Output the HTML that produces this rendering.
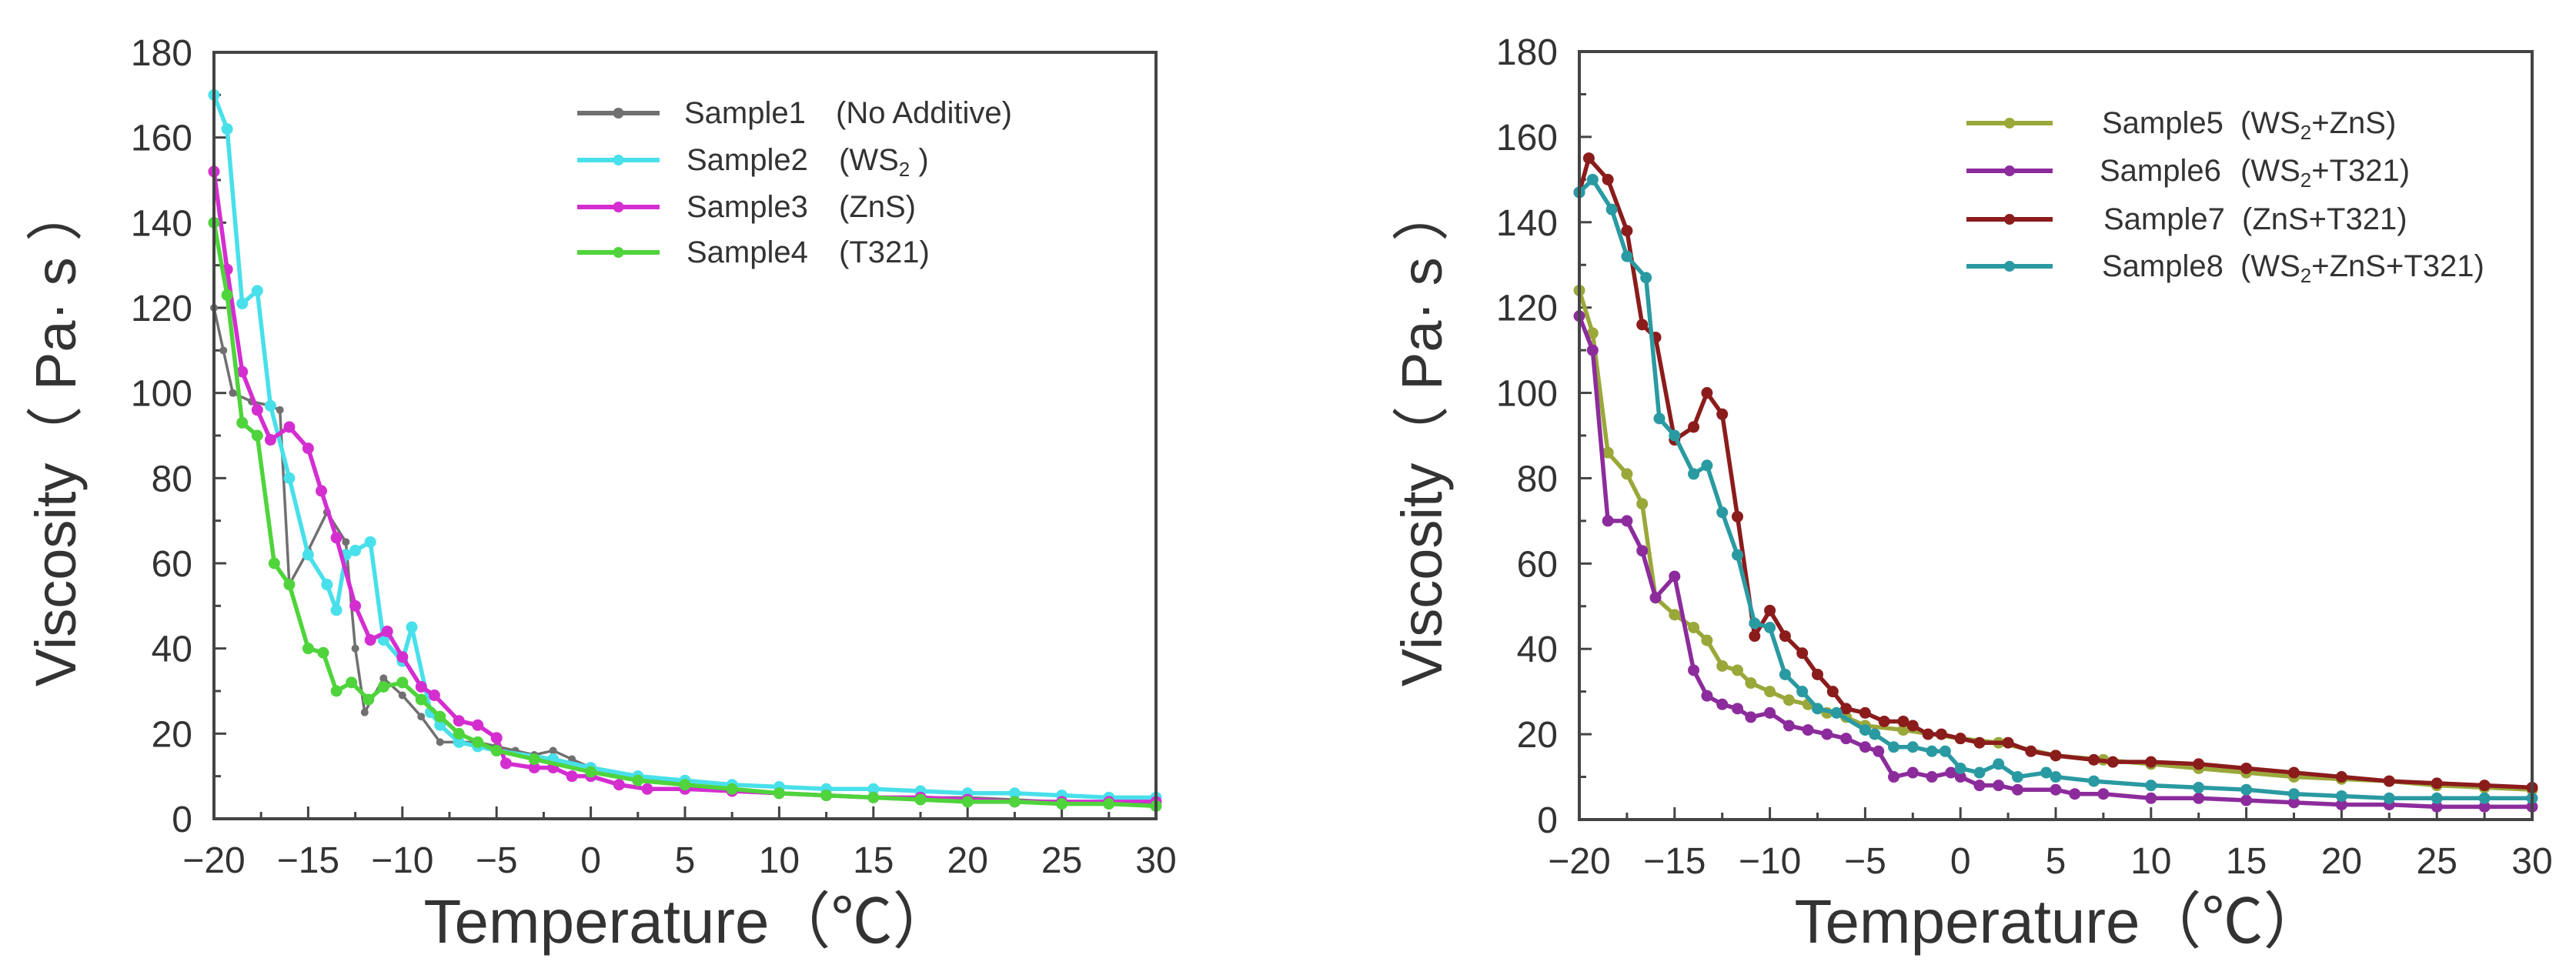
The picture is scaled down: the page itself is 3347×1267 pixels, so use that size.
<!DOCTYPE html>
<html><head><meta charset="utf-8"><style>
body{margin:0;background:#fff}
svg text{font-family:"Liberation Sans",sans-serif;fill:#333}
</style></head><body>
<svg id="svg" width="3347" height="1262" viewBox="0 0 3347 1262" xmlns="http://www.w3.org/2000/svg"></svg>
<script>
const xTicks=[-20,-15,-10,-5,0,5,10,15,20,25,30];
const yTicks=[0,20,40,60,80,100,120,140,160,180];
const s1x=[-20,-19.5,-19,-18,-17,-16.5,-16,-15,-14,-13,-12.5,-12,-11,-10,-9,-8,-7,-6,-5,-4,-3,-2,-1,0,2,5,7.5,10,12.5,15,17.5,20,22.5,25,27.5,30];
const s1v=[120,110,100,98,97,96,55,63,72,65,40,25,33,29,24,18,18,18,17,16,15,16,14,12,10,8,7,6,5.5,5,5,5,4.5,4,4,4];
const s2x=[-20,-19.3,-18.5,-17.7,-17,-16,-15,-14,-13.5,-13,-12.5,-11.7,-11,-10,-9.5,-8.5,-8,-7,-6,-5,-2,0,2.5,5,7.5,10,12.5,15,17.5,20,22.5,25,27.5,30];
const s2v=[170,162,121,124,97,80,62,55,49,62,63,65,42,37,45,25,22,18,17,16,14,12,10,9,8,7.5,7,7,6.5,6,6,5.5,5,5];
const s3x=[-20,-19.3,-18.5,-17.7,-17,-16,-15,-14.3,-13.5,-12.5,-11.7,-10.8,-10,-9,-8.3,-7,-6,-5,-4.5,-3,-2,-1,0,1.5,3,5,7.5,10,12.5,15,17.5,20,22.5,25,27.5,30];
const s3v=[152,129,105,96,89,92,87,77,66,50,42,44,38,31,29,23,22,19,13,12,12,10,10,8,7,7,6.5,6,5.5,5,5,4.5,4,4,4,4];
const s4x=[-20,-19.3,-18.5,-17.7,-16.8,-16,-15,-14.2,-13.5,-12.7,-11.8,-11,-10,-9,-8,-7,-6,-5,-3,0,2.5,5,7.5,10,12.5,15,17.5,20,22.5,25,27.5,30];
const s4v=[140,123,93,90,60,55,40,39,30,32,28,31,32,28,24,20,18,16,14,11,9,8,7,6,5.5,5,4.5,4,4,3.5,3.5,3];
const s5x=[-20,-19.3,-18.5,-17.5,-16.7,-16,-15,-14,-13.3,-12.5,-11.7,-11,-10,-9,-8,-7,-6,-5,-3,0,2,5,7.5,10,12.5,15,17.5,20,22.5,25,27.5,30];
const s5v=[124,114,86,81,74,52,48,45,42,36,35,32,30,28,27,25,24,22,21,19,18,15,14,13,12,11,10,9.5,9,8,7.5,7];
const s6x=[-20,-19.3,-18.5,-17.5,-16.7,-16,-15,-14,-13.3,-12.5,-11.7,-11,-10,-9,-8,-7,-6,-5,-4.3,-3.5,-2.5,-1.5,-0.5,0,1,2,3,5,6,7.5,10,12.5,15,17.5,20,22.5,25,27.5,30];
const s6v=[118,110,70,70,63,52,57,35,29,27,26,24,25,22,21,20,19,17,16,10,11,10,11,10,8,8,7,7,6,6,5,5,4.5,4,3.5,3.5,3,3,3];
const s7x=[-20,-19.5,-18.5,-17.5,-16.7,-16,-15,-14,-13.3,-12.5,-11.7,-10.8,-10,-9.2,-8.3,-7.5,-6.7,-6,-5,-4,-3,-2.5,-1.7,-1,0,1,2.5,3.7,5,7,8,10,12.5,15,17.5,20,22.5,25,27.5,30];
const s7v=[147,155,150,138,116,113,89,92,100,95,71,43,49,43,39,34,30,26,25,23,23,22,20,20,19,18,18,16,15,14,13.5,13.5,13,12,11,10,9,8.5,8,7.5];
const s8x=[-20,-19.3,-18.3,-17.5,-16.5,-15.8,-15,-14,-13.3,-12.5,-11.7,-10.8,-10,-9.2,-8.3,-7.5,-6.5,-5,-4.5,-3.5,-2.5,-1.5,-0.8,0,1,2,3,4.5,5,7,10,12.5,15,17.5,20,22.5,25,27.5,30];
const s8v=[147,150,143,132,127,94,90,81,83,72,62,46,45,34,30,26,25,21,20,17,17,16,16,12,11,13,10,11,10,9,8,7.5,7,6,5.5,5,5,5,5];

const NS="http://www.w3.org/2000/svg";
const svg=document.getElementById('svg');
function mk(tag,attrs,parent){const e=document.createElementNS(NS,tag);for(const k in attrs)e.setAttribute(k,attrs[k]);(parent||svg).appendChild(e);return e;}

function chart(id,L,R,T,B,series,legend,ytx){
  const g=mk('g',{});
  
  
  const X=v=>L+(v+20)/50*(R-L);
  const Y=v=>B-v/180*(B-T);
  for(let t=-20;t<=30;t+=2.5){const len=(t%5===0)?16:9;mk('line',{x1:X(t),x2:X(t),y1:B,y2:B-len,stroke:'#444','stroke-width':3},g);}
  for(let v=0;v<=180;v+=10){const len=(v%20===0)?16:9;mk('line',{x1:L,x2:L+len,y1:Y(v),y2:Y(v),stroke:'#444','stroke-width':3},g);}
  xTicks.forEach(t=>{const tx=mk('text',{x:X(t),y:B+70,'font-size':48,'text-anchor':'middle'},g);tx.textContent=(t<0?'\u2212'+(-t):t);
    
    });
  yTicks.forEach(v=>{const tx=mk('text',{x:L-28,y:Y(v)+17,'font-size':48,'text-anchor':'end'},g);tx.textContent=v;
    
    });
  series.forEach(s=>{
    const pts=s.x.map((x,i)=>X(x)+','+Y(s.v[i])).join(' ');
    const pl=mk('polyline',{points:pts,fill:'none',stroke:s.c,'stroke-width':s.w||5.5,'stroke-linejoin':'round'},g);
    
    
    s.x.forEach((x,i)=>{const c=mk('circle',{cx:X(x),cy:Y(s.v[i]),r:s.r||7.5,fill:s.c},g);
      
      });
  });
  const fr=mk('rect',{x:L,y:T,width:R-L,height:B-T,fill:'none',stroke:'#444','stroke-width':4},g);
  
  
  legend.forEach(e=>{
    const lg=mk('g',{},g);
    
    
    mk('line',{x1:e.lx1,x2:e.lx2,y1:e.y,y2:e.y,stroke:e.c,'stroke-width':6},lg);
    mk('circle',{cx:(e.lx1+e.lx2)/2,cy:e.y,r:7,fill:e.c},lg);
    const t=mk('text',{x:e.tx,y:e.y+13,'font-size':40},lg);t.textContent=e.a;
    const t2=mk('text',{x:e.px,y:e.y+13,'font-size':40},lg);t2.innerHTML=e.b;
  });
  const xt=mk('text',{x:(L+R)/2+5,y:1225,'font-size':80,'text-anchor':'middle'},g);xt.textContent='Temperature（℃）';
  
  
  const yt=mk('text',{x:0,y:0,'font-size':74,'text-anchor':'middle',transform:`translate(${ytx},${(T+B)/2}) rotate(-90)`},g);yt.textContent='Viscosity（  Pa· s ）';
  
  
}
chart('left-chart',278,1502,68,1064,[
 {n:'sample1',x:s1x,v:s1v,c:'#707070',w:3.5,r:5},
 {n:'sample2',x:s2x,v:s2v,c:'#48e0ea'},
 {n:'sample3',x:s3x,v:s3v,c:'#d42ed0'},
 {n:'sample4',x:s4x,v:s4v,c:'#4fd43c'}],[
 {lx1:750,lx2:857,y:147,c:'#707070',tx:889,px:1086,a:'Sample1',b:'(No Additive)'},
 {lx1:750,lx2:857,y:208,c:'#48e0ea',tx:892,px:1090,a:'Sample2',b:'(WS<tspan font-size="26" dy="8">2</tspan><tspan dy="-8"> )</tspan>'},
 {lx1:750,lx2:857,y:269,c:'#d42ed0',tx:892,px:1090,a:'Sample3',b:'(ZnS)'},
 {lx1:750,lx2:857,y:328,c:'#4fd43c',tx:892,px:1090,a:'Sample4',b:'(T321)'}],98);
chart('right-chart',2052,3290,67,1065,[
 {n:'sample5',x:s5x,v:s5v,c:'#9aa83a'},
 {n:'sample6',x:s6x,v:s6v,c:'#8c2c9c'},
 {n:'sample7',x:s7x,v:s7v,c:'#8b1c1c'},
 {n:'sample8',x:s8x,v:s8v,c:'#2a9aa2'}],[
 {lx1:2555,lx2:2667,y:160,c:'#9aa83a',tx:2731,px:2911,a:'Sample5',b:'(WS<tspan font-size="26" dy="8">2</tspan><tspan dy="-8">+ZnS)</tspan>'},
 {lx1:2555,lx2:2667,y:222,c:'#8c2c9c',tx:2728,px:2911,a:'Sample6',b:'(WS<tspan font-size="26" dy="8">2</tspan><tspan dy="-8">+T321)</tspan>'},
 {lx1:2555,lx2:2667,y:285,c:'#8b1c1c',tx:2733,px:2913,a:'Sample7',b:'(ZnS+T321)'},
 {lx1:2555,lx2:2667,y:346,c:'#2a9aa2',tx:2731,px:2911,a:'Sample8',b:'(WS<tspan font-size="26" dy="8">2</tspan><tspan dy="-8">+ZnS+T321)</tspan>'}],1873);
</script>
</body></html>
